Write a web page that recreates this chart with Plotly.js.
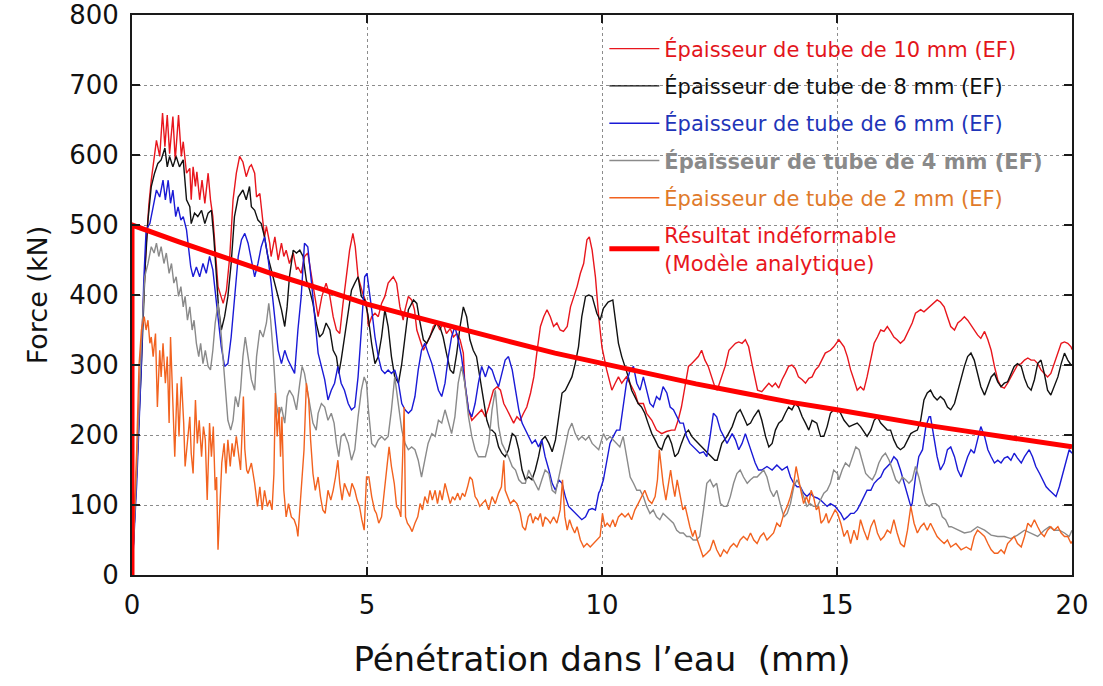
<!DOCTYPE html>
<html>
<head>
<meta charset="utf-8">
<script src="https://cdn.plot.ly/plotly-3.0.1.min.js"></script>
<style>html,body{margin:0;padding:0;background:#fff}#chart{width:1103px;height:686px}</style>
</head>
<body>
<div id="chart"></div>
<script>
// Penetration (mm), Force (kN) pairs
const tube10mm = [[0,0],[0.1,150],[0.2,330],[0.3,470],[0.36,530],[0.41,564],[0.52,621],[0.59,598],[0.65,660],[0.70,612],[0.75,657],[0.80,602],[0.87,655],[0.92,593],[0.99,657],[1.05,598],[1.09,619],[1.16,574],[1.23,581],[1.26,536],[1.30,583],[1.35,555],[1.38,576],[1.44,536],[1.49,564],[1.55,531],[1.62,574],[1.67,536],[1.72,512],[1.77,469],[1.83,412],[1.94,388],[2.01,407],[2.08,455],[2.15,536],[2.22,574],[2.29,598],[2.36,590],[2.43,569],[2.50,583],[2.54,586],[2.61,574],[2.65,540],[2.72,545],[2.77,517],[2.82,483],[2.86,498],[2.93,474],[2.96,455],[3.04,483],[3.11,450],[3.18,474],[3.23,455],[3.28,464],[3.35,445],[3.43,460],[3.50,436],[3.53,440],[3.60,431],[3.67,455],[3.74,460],[3.82,426],[3.89,398],[3.96,369],[4.04,398],[4.13,417],[4.21,398],[4.28,369],[4.35,350],[4.42,345],[4.49,388],[4.56,426],[4.63,464],[4.70,488],[4.75,469],[4.81,426],[4.91,402],[4.99,388],[5.03,355],[5.10,369],[5.17,374],[5.24,369],[5.31,388],[5.38,398],[5.45,417],[5.56,426],[5.63,417],[5.70,383],[5.77,364],[5.81,379],[5.88,398],[5.95,393],[6.01,379],[6.06,350],[6.13,336],[6.20,321],[6.27,331],[6.34,340],[6.41,355],[6.48,360],[6.55,350],[6.62,360],[6.69,345],[6.77,352],[6.84,340],[6.91,345],[6.98,336],[7.05,317],[7.08,274],[7.16,236],[7.23,221],[7.30,226],[7.37,231],[7.44,236],[7.52,226],[7.59,240],[7.69,264],[7.77,269],[7.84,264],[7.91,245],[7.98,236],[8.05,226],[8.12,217],[8.19,226],[8.26,221],[8.33,231],[8.40,240],[8.48,260],[8.55,283],[8.62,321],[8.69,355],[8.76,369],[8.83,379],[8.90,369],[8.97,355],[9.04,360],[9.11,350],[9.18,348],[9.26,355],[9.33,383],[9.40,398],[9.47,412],[9.54,431],[9.61,445],[9.68,479],[9.73,483],[9.79,464],[9.86,426],[9.93,369],[10.0,325],[10.10,293],[10.21,264],[10.28,274],[10.35,283],[10.42,274],[10.52,283],[10.63,269],[10.70,260],[10.77,245],[10.88,245],[10.95,231],[11.06,221],[11.16,207],[11.27,202],[11.37,205],[11.48,207],[11.55,207],[11.62,221],[11.69,240],[11.77,274],[11.84,298],[11.91,302],[11.98,307],[12.05,312],[12.12,321],[12.19,307],[12.26,298],[12.33,283],[12.40,269],[12.45,264],[12.55,283],[12.62,298],[12.70,321],[12.77,326],[12.84,331],[12.91,333],[12.98,331],[13.05,336],[13.12,326],[13.19,302],[13.26,279],[13.31,264],[13.40,262],[13.48,269],[13.55,274],[13.62,269],[13.69,274],[13.76,267],[13.83,279],[13.90,288],[13.97,298],[14.04,300],[14.11,295],[14.18,283],[14.26,279],[14.33,274],[14.40,281],[14.47,283],[14.54,293],[14.61,298],[14.68,307],[14.75,317],[14.86,321],[14.93,326],[15.04,336],[15.15,326],[15.22,312],[15.29,293],[15.36,279],[15.43,264],[15.50,269],[15.57,264],[15.64,283],[15.72,307],[15.79,331],[15.86,340],[15.93,350],[16.00,348],[16.07,355],[16.14,348],[16.21,340],[16.28,336],[16.35,331],[16.43,336],[16.50,345],[16.60,360],[16.67,374],[16.78,379],[16.85,376],[16.96,383],[17.06,388],[17.13,393],[17.20,390],[17.28,383],[17.35,369],[17.42,355],[17.50,350],[17.57,360],[17.64,364],[17.71,369],[17.78,364],[17.85,357],[17.92,350],[17.99,343],[18.06,338],[18.14,348],[18.21,336],[18.28,321],[18.35,298],[18.42,279],[18.49,269],[18.56,267],[18.63,274],[18.70,283],[18.77,293],[18.84,300],[18.92,302],[18.99,307],[19.06,310],[19.13,307],[19.20,307],[19.27,302],[19.34,293],[19.41,288],[19.48,283],[19.55,288],[19.62,302],[19.70,317],[19.77,331],[19.84,333],[19.91,331],[19.98,326],[20,322]];

const tube8mm = [[0,0],[0.1,140],[0.2,300],[0.28,440],[0.34,507],[0.41,555],[0.48,574],[0.55,588],[0.62,593],[0.70,610],[0.75,583],[0.80,598],[0.87,583],[0.94,598],[1.01,583],[1.09,593],[1.16,536],[1.23,526],[1.26,502],[1.33,517],[1.40,512],[1.48,521],[1.55,502],[1.62,517],[1.69,521],[1.74,483],[1.79,431],[1.84,383],[1.90,350],[1.97,369],[2.04,398],[2.11,445],[2.18,512],[2.26,540],[2.36,550],[2.43,536],[2.50,555],[2.54,526],[2.61,521],[2.68,507],[2.75,502],[2.82,483],[2.89,455],[2.96,436],[3.04,417],[3.11,398],[3.18,379],[3.25,355],[3.30,383],[3.35,426],[3.43,464],[3.50,460],[3.57,464],[3.64,455],[3.71,421],[3.78,407],[3.85,388],[3.92,360],[3.99,340],[4.06,345],[4.13,360],[4.21,350],[4.28,321],[4.35,312],[4.40,288],[4.45,307],[4.52,340],[4.60,379],[4.67,407],[4.74,417],[4.81,426],[4.88,398],[4.95,393],[5.02,372],[5.10,330],[5.17,302],[5.24,312],[5.31,340],[5.38,379],[5.45,355],[5.52,312],[5.59,283],[5.67,274],[5.74,302],[5.81,340],[5.88,379],[5.99,393],[6.06,388],[6.13,360],[6.20,336],[6.27,331],[6.34,340],[6.41,350],[6.48,360],[6.55,355],[6.62,340],[6.69,317],[6.77,293],[6.84,288],[6.91,317],[6.98,355],[7.05,383],[7.12,369],[7.19,336],[7.26,321],[7.33,312],[7.40,283],[7.47,255],[7.55,221],[7.62,207],[7.66,207],[7.73,202],[7.80,183],[7.87,174],[7.94,169],[8.01,179],[8.09,202],[8.16,198],[8.23,179],[8.30,150],[8.37,136],[8.44,140],[8.51,136],[8.58,150],[8.65,169],[8.72,193],[8.79,198],[8.87,188],[8.94,176],[9.01,193],[9.08,226],[9.15,260],[9.22,264],[9.29,274],[9.36,283],[9.43,302],[9.50,326],[9.57,369],[9.65,398],[9.72,400],[9.79,398],[9.89,374],[9.96,364],[10.03,381],[10.13,390],[10.23,393],[10.28,369],[10.35,331],[10.42,312],[10.49,298],[10.56,283],[10.63,264],[10.70,255],[10.77,245],[10.84,240],[10.91,231],[10.98,217],[11.06,202],[11.13,193],[11.20,183],[11.27,179],[11.34,193],[11.41,200],[11.48,188],[11.55,169],[11.62,174],[11.69,188],[11.77,202],[11.84,207],[11.91,198],[11.98,193],[12.05,188],[12.12,183],[12.19,179],[12.26,174],[12.33,169],[12.40,164],[12.45,164],[12.55,188],[12.66,198],[12.77,212],[12.87,231],[12.94,236],[13.01,226],[13.09,214],[13.16,217],[13.23,226],[13.33,236],[13.40,221],[13.48,198],[13.55,183],[13.62,188],[13.69,207],[13.76,217],[13.83,221],[13.90,231],[13.97,240],[14.04,236],[14.11,245],[14.18,240],[14.26,226],[14.33,217],[14.40,207],[14.47,221],[14.57,217],[14.65,198],[14.72,198],[14.79,212],[14.86,231],[14.93,236],[15.04,236],[15.15,221],[15.26,212],[15.33,214],[15.43,217],[15.50,212],[15.57,205],[15.64,198],[15.72,207],[15.79,221],[15.86,226],[15.93,217],[16.00,212],[16.07,207],[16.14,207],[16.21,193],[16.28,183],[16.35,179],[16.43,183],[16.50,193],[16.57,202],[16.64,205],[16.71,207],[16.78,221],[16.85,250],[16.92,260],[16.99,264],[17.06,255],[17.13,250],[17.20,255],[17.28,250],[17.35,240],[17.42,236],[17.50,245],[17.57,264],[17.64,283],[17.71,298],[17.78,312],[17.85,317],[17.92,307],[17.99,288],[18.06,269],[18.14,257],[18.21,269],[18.28,283],[18.35,288],[18.42,276],[18.49,269],[18.56,274],[18.63,276],[18.70,288],[18.77,298],[18.84,302],[18.92,298],[18.99,281],[19.06,269],[19.13,264],[19.20,279],[19.27,302],[19.34,307],[19.41,288],[19.48,264],[19.55,257],[19.62,269],[19.70,283],[19.77,302],[19.84,317],[19.91,307],[19.98,300],[20,300]];

const tube6mm = [[0,0],[0.1,130],[0.2,300],[0.25,420],[0.30,493],[0.38,502],[0.45,526],[0.52,550],[0.59,540],[0.66,564],[0.71,536],[0.77,564],[0.82,531],[0.87,550],[0.93,512],[0.98,526],[1.04,507],[1.09,512],[1.16,493],[1.21,464],[1.25,440],[1.30,426],[1.37,440],[1.44,426],[1.51,445],[1.58,431],[1.65,455],[1.72,436],[1.77,407],[1.83,369],[1.90,326],[1.97,298],[2.04,302],[2.11,340],[2.18,398],[2.26,455],[2.33,479],[2.40,488],[2.47,474],[2.54,450],[2.61,426],[2.68,445],[2.75,469],[2.82,483],[2.89,455],[2.96,417],[3.04,369],[3.11,321],[3.18,302],[3.25,321],[3.32,307],[3.39,298],[3.46,288],[3.53,350],[3.60,398],[3.67,474],[3.74,469],[3.82,417],[3.89,369],[3.96,317],[4.03,298],[4.10,279],[4.17,250],[4.24,264],[4.31,274],[4.38,298],[4.45,274],[4.52,264],[4.60,245],[4.67,236],[4.74,240],[4.81,283],[4.88,350],[4.95,426],[5.0,431],[5.03,417],[5.10,379],[5.17,340],[5.24,312],[5.31,293],[5.38,288],[5.45,293],[5.52,288],[5.59,293],[5.67,274],[5.74,245],[5.81,236],[5.88,231],[5.95,236],[6.02,255],[6.09,293],[6.16,321],[6.23,331],[6.30,317],[6.38,302],[6.45,283],[6.52,264],[6.59,255],[6.66,274],[6.73,312],[6.80,340],[6.87,355],[6.94,336],[7.01,312],[7.08,274],[7.16,236],[7.23,226],[7.30,245],[7.37,274],[7.44,298],[7.52,283],[7.59,298],[7.66,293],[7.73,279],[7.80,269],[7.87,288],[7.94,307],[8.01,312],[8.09,293],[8.16,264],[8.23,236],[8.30,217],[8.37,207],[8.44,198],[8.51,188],[8.58,193],[8.65,183],[8.72,193],[8.79,169],[8.87,150],[8.94,131],[9.01,121],[9.08,136],[9.15,131],[9.22,112],[9.29,98],[9.36,93],[9.43,88],[9.50,83],[9.57,79],[9.65,83],[9.72,93],[9.79,95],[9.86,93],[9.93,117],[9.96,121],[10.03,136],[10.10,160],[10.17,188],[10.24,198],[10.31,207],[10.38,207],[10.45,240],[10.52,274],[10.60,293],[10.67,298],[10.74,274],[10.81,264],[10.88,283],[10.95,264],[11.02,245],[11.09,240],[11.16,255],[11.23,250],[11.30,269],[11.38,260],[11.45,240],[11.52,236],[11.59,226],[11.66,217],[11.73,217],[11.80,198],[11.87,188],[11.94,183],[12.01,179],[12.08,174],[12.16,176],[12.23,169],[12.30,198],[12.37,231],[12.44,226],[12.52,207],[12.59,198],[12.66,188],[12.77,202],[12.84,193],[12.91,179],[12.98,188],[13.05,202],[13.12,188],[13.19,174],[13.26,160],[13.33,150],[13.40,150],[13.51,155],[13.62,150],[13.72,157],[13.83,150],[13.94,155],[14.01,140],[14.08,131],[14.15,126],[14.22,126],[14.29,117],[14.36,112],[14.43,117],[14.50,112],[14.58,110],[14.65,107],[14.72,102],[14.79,98],[14.86,102],[14.96,98],[15.08,88],[15.15,79],[15.22,83],[15.29,88],[15.36,88],[15.43,93],[15.50,102],[15.57,112],[15.64,121],[15.72,121],[15.79,131],[15.86,136],[15.93,140],[16.00,150],[16.07,155],[16.14,160],[16.21,169],[16.28,164],[16.35,150],[16.43,131],[16.50,112],[16.57,98],[16.60,102],[16.67,140],[16.74,169],[16.82,179],[16.89,212],[16.96,226],[16.99,226],[17.06,198],[17.13,169],[17.20,150],[17.28,160],[17.35,179],[17.42,183],[17.50,169],[17.57,150],[17.64,140],[17.71,155],[17.78,169],[17.85,179],[17.92,174],[17.99,193],[18.06,212],[18.14,198],[18.21,179],[18.28,169],[18.35,160],[18.42,164],[18.49,160],[18.56,167],[18.63,169],[18.70,164],[18.77,174],[18.84,167],[18.92,160],[18.99,169],[19.09,179],[19.16,169],[19.23,155],[19.31,145],[19.38,136],[19.45,126],[19.52,121],[19.59,117],[19.66,112],[19.73,126],[19.80,145],[19.87,164],[19.94,179],[20,174]];

const tube4mm = [[0,0],[0.1,150],[0.2,330],[0.27,426],[0.34,445],[0.41,469],[0.47,460],[0.52,474],[0.57,455],[0.62,469],[0.68,445],[0.73,460],[0.79,431],[0.84,445],[0.89,417],[0.94,426],[0.99,398],[1.04,412],[1.09,383],[1.13,398],[1.18,364],[1.23,383],[1.28,350],[1.32,364],[1.37,331],[1.42,312],[1.46,331],[1.51,302],[1.56,321],[1.62,298],[1.67,293],[1.72,321],[1.77,360],[1.83,388],[1.89,350],[1.94,312],[1.99,264],[2.04,221],[2.10,207],[2.15,221],[2.20,255],[2.26,240],[2.31,264],[2.36,312],[2.41,340],[2.47,312],[2.54,279],[2.61,264],[2.65,312],[2.72,350],[2.79,340],[2.86,360],[2.91,388],[2.95,364],[3.00,321],[3.07,245],[3.12,226],[3.18,240],[3.25,217],[3.30,255],[3.35,264],[3.43,255],[3.50,236],[3.57,274],[3.62,298],[3.67,288],[3.73,264],[3.78,250],[3.85,217],[3.92,207],[3.96,231],[4.03,245],[4.10,240],[4.17,221],[4.24,231],[4.30,217],[4.35,188],[4.40,169],[4.45,198],[4.52,202],[4.60,188],[4.67,164],[4.74,179],[4.81,226],[4.88,264],[4.94,283],[4.99,274],[5.03,236],[5.10,188],[5.17,183],[5.24,193],[5.31,198],[5.38,193],[5.45,198],[5.52,236],[5.59,283],[5.67,245],[5.74,207],[5.81,188],[5.88,179],[5.95,183],[6.02,179],[6.09,164],[6.16,140],[6.23,164],[6.30,188],[6.38,202],[6.45,198],[6.52,221],[6.59,217],[6.66,236],[6.73,217],[6.80,202],[6.87,226],[6.94,274],[7.01,298],[7.08,274],[7.16,226],[7.23,198],[7.30,179],[7.37,169],[7.44,169],[7.52,169],[7.59,188],[7.66,236],[7.73,264],[7.80,212],[7.87,188],[7.94,179],[8.01,169],[8.09,155],[8.16,150],[8.23,136],[8.30,131],[8.37,131],[8.44,150],[8.51,140],[8.58,131],[8.65,121],[8.72,136],[8.79,150],[8.87,145],[8.94,121],[9.01,117],[9.08,140],[9.15,160],[9.22,188],[9.29,207],[9.36,217],[9.43,202],[9.50,193],[9.57,198],[9.65,193],[9.72,198],[9.79,188],[9.86,183],[9.93,179],[10.03,202],[10.10,193],[10.17,198],[10.24,193],[10.31,188],[10.38,183],[10.45,198],[10.52,169],[10.60,140],[10.67,131],[10.74,121],[10.81,121],[10.88,112],[10.95,98],[11.02,88],[11.09,93],[11.16,83],[11.23,79],[11.30,88],[11.38,83],[11.45,79],[11.52,74],[11.59,64],[11.66,60],[11.73,60],[11.80,55],[11.87,55],[11.94,50],[12.01,50],[12.08,55],[12.16,93],[12.23,131],[12.30,136],[12.37,126],[12.44,131],[12.52,102],[12.59,98],[12.66,98],[12.73,112],[12.80,131],[12.87,145],[12.94,150],[13.01,140],[13.09,131],[13.16,136],[13.23,140],[13.30,140],[13.37,145],[13.44,150],[13.51,140],[13.58,121],[13.65,112],[13.72,121],[13.79,102],[13.87,83],[13.94,88],[14.01,102],[14.08,126],[14.15,136],[14.22,126],[14.29,112],[14.36,98],[14.43,102],[14.50,98],[14.58,98],[14.65,107],[14.72,117],[14.79,121],[14.86,131],[14.93,150],[15.01,145],[15.04,136],[15.11,150],[15.18,160],[15.26,155],[15.33,169],[15.40,183],[15.47,179],[15.54,160],[15.61,145],[15.68,140],[15.75,136],[15.82,145],[15.89,160],[15.96,169],[16.03,174],[16.11,164],[16.18,150],[16.25,136],[16.32,131],[16.39,140],[16.46,136],[16.53,131],[16.60,136],[16.67,155],[16.74,140],[16.82,117],[16.89,102],[16.96,98],[17.03,102],[17.10,102],[17.17,98],[17.24,83],[17.31,79],[17.38,69],[17.43,69],[17.57,64],[17.71,60],[17.85,62],[17.99,69],[18.14,64],[18.28,57],[18.42,55],[18.56,55],[18.70,52],[18.84,57],[18.99,64],[19.13,60],[19.27,55],[19.41,64],[19.52,69],[19.62,64],[19.73,64],[19.84,60],[19.94,55],[20,64]];

const tube2mm = [[0,0],[0.1,180],[0.15,300],[0.20,350],[0.26,369],[0.30,350],[0.34,364],[0.38,331],[0.41,340],[0.45,312],[0.50,345],[0.54,240],[0.59,321],[0.62,283],[0.66,331],[0.71,274],[0.75,312],[0.79,217],[0.82,340],[0.87,245],[0.91,169],[0.96,274],[1.00,198],[1.05,283],[1.10,217],[1.13,155],[1.18,193],[1.23,226],[1.26,174],[1.30,145],[1.35,250],[1.39,188],[1.43,221],[1.48,169],[1.52,212],[1.56,193],[1.60,107],[1.65,217],[1.69,169],[1.73,212],[1.77,121],[1.80,140],[1.83,36],[1.87,98],[1.91,160],[1.96,188],[2.00,145],[2.04,193],[2.09,155],[2.13,188],[2.17,169],[2.22,198],[2.27,169],[2.31,150],[2.34,200],[2.37,255],[2.40,180],[2.44,150],[2.47,145],[2.54,160],[2.61,131],[2.67,98],[2.72,126],[2.77,93],[2.82,121],[2.88,98],[2.93,107],[2.98,93],[3.02,145],[3.05,260],[3.09,198],[3.13,240],[3.16,169],[3.19,226],[3.23,121],[3.28,83],[3.33,102],[3.39,83],[3.45,79],[3.50,69],[3.53,55],[3.57,93],[3.62,136],[3.66,179],[3.71,274],[3.76,250],[3.80,193],[3.85,145],[3.90,121],[3.96,140],[4.01,112],[4.06,93],[4.11,88],[4.17,121],[4.23,107],[4.28,121],[4.33,140],[4.38,164],[4.42,131],[4.47,107],[4.52,131],[4.58,121],[4.63,112],[4.68,131],[4.74,121],[4.79,107],[4.84,98],[4.89,79],[4.94,64],[4.99,140],[5.04,140],[5.10,112],[5.16,93],[5.20,88],[5.25,74],[5.31,83],[5.37,121],[5.42,155],[5.47,183],[5.52,155],[5.58,131],[5.63,98],[5.68,93],[5.72,83],[5.77,179],[5.79,240],[5.82,83],[5.86,74],[5.91,69],[5.96,62],[6.02,74],[6.08,83],[6.13,102],[6.18,93],[6.23,112],[6.29,102],[6.34,121],[6.39,107],[6.45,121],[6.50,102],[6.55,121],[6.60,107],[6.66,131],[6.72,117],[6.77,102],[6.82,112],[6.87,107],[6.93,117],[6.98,107],[7.03,117],[7.08,112],[7.14,126],[7.19,140],[7.24,136],[7.30,112],[7.35,107],[7.40,98],[7.45,102],[7.52,107],[7.59,93],[7.66,112],[7.73,102],[7.80,117],[7.86,126],[7.91,164],[7.94,121],[8.00,112],[8.05,102],[8.12,107],[8.19,102],[8.26,88],[8.31,69],[8.37,64],[8.43,83],[8.48,88],[8.53,74],[8.58,83],[8.64,79],[8.69,88],[8.74,69],[8.79,83],[8.85,79],[8.90,74],[8.97,83],[9.04,74],[9.11,93],[9.16,136],[9.21,83],[9.26,64],[9.31,79],[9.36,69],[9.42,60],[9.47,69],[9.54,50],[9.61,40],[9.68,45],[9.75,40],[9.82,45],[9.89,50],[9.96,55],[10.01,88],[10.06,69],[10.11,74],[10.17,69],[10.23,79],[10.28,69],[10.35,83],[10.42,88],[10.49,83],[10.56,88],[10.63,79],[10.70,93],[10.77,102],[10.84,112],[10.91,121],[10.99,107],[11.06,102],[11.13,112],[11.18,136],[11.22,179],[11.25,160],[11.30,131],[11.36,107],[11.41,131],[11.46,150],[11.50,131],[11.55,112],[11.60,136],[11.66,112],[11.72,93],[11.77,98],[11.82,83],[11.87,69],[11.93,55],[11.98,64],[12.03,50],[12.08,40],[12.15,26],[12.23,31],[12.30,36],[12.37,50],[12.44,36],[12.52,26],[12.59,36],[12.66,31],[12.73,40],[12.80,45],[12.87,40],[12.94,50],[13.01,55],[13.09,50],[13.16,60],[13.23,50],[13.30,45],[13.37,55],[13.44,60],[13.51,50],[13.58,55],[13.65,60],[13.72,74],[13.79,69],[13.87,88],[13.94,98],[14.01,112],[14.08,131],[14.13,155],[14.18,140],[14.23,121],[14.29,102],[14.35,112],[14.40,102],[14.45,121],[14.50,112],[14.56,93],[14.61,98],[14.66,74],[14.72,79],[14.77,88],[14.82,74],[14.89,83],[14.96,93],[15.01,88],[15.08,74],[15.15,55],[15.22,64],[15.29,45],[15.36,64],[15.43,50],[15.50,79],[15.57,64],[15.65,50],[15.72,69],[15.79,79],[15.86,60],[15.93,50],[16.00,55],[16.07,64],[16.14,60],[16.21,79],[16.28,60],[16.35,45],[16.43,40],[16.50,64],[16.57,98],[16.64,74],[16.71,60],[16.78,69],[16.85,74],[16.92,64],[16.99,74],[17.06,64],[17.13,55],[17.20,50],[17.28,45],[17.35,50],[17.42,40],[17.53,45],[17.64,36],[17.75,40],[17.85,36],[17.92,55],[17.99,64],[18.06,60],[18.14,55],[18.21,45],[18.28,36],[18.35,31],[18.42,31],[18.49,36],[18.56,31],[18.63,45],[18.70,50],[18.77,55],[18.84,45],[18.92,40],[18.99,55],[19.06,74],[19.13,69],[19.20,79],[19.27,69],[19.34,60],[19.41,55],[19.48,64],[19.55,69],[19.62,64],[19.70,69],[19.77,60],[19.84,55],[19.91,55],[19.98,45],[20,48]];

const analytic = [[0,0],[0,500],[1,476],[2,453],[3,430],[4,409],[5,387],[6,369],[7,351],[8,334],[9,317],[10,302],[11,287],[12,273],[13,260],[14,247],[15,236],[16,224],[17,213],[18,203],[19,193],[20,183]];

const seriesNames = [
  'Épaisseur de tube de 10 mm (EF)',
  'Épaisseur de tube de 8 mm (EF)',
  'Épaisseur de tube de 6 mm (EF)',
  'Épaisseur de tube de 4 mm (EF)',
  'Épaisseur de tube de 2 mm (EF)',
  'Résultat indéformable<br>(Modèle analytique)'
];
const xTickVals = [0, 5, 10, 15, 20];
const yTickVals = [0, 100, 200, 300, 400, 500, 600, 700, 800];

const FONT = '"DejaVu Sans", "Liberation Sans", sans-serif';
const lineColors = ['#e8161d', '#111111', '#1a1ad6', '#8a8a8a', '#f2621f', '#ff0000'];
const textColors = ['#e3151b', '#111111', '#1f35b8', '#8a8a8a', '#e07a2a', '#e8161d'];
const widths = [1.4, 1.4, 1.4, 1.4, 1.4, 5];
const datasets = [tube10mm, tube8mm, tube6mm, tube4mm, tube2mm, analytic];

const traces = datasets.map((d, i) => {
  let label = seriesNames[i];
  if (i === 3) label = '<b>' + label + '</b>';
  return {
    type: 'scatter', mode: 'lines',
    x: d.map(p => p[0]), y: d.map(p => p[1]),
    name: '<span style="color:' + textColors[i] + '">' + label + '</span>',
    legendgroup: 'g' + i,
    line: {color: lineColors[i], width: widths[i]},
    hoverinfo: 'skip'
  };
});

const axisCommon = {
  showline: true, linecolor: '#1a1a1a', linewidth: 2, mirror: 'ticks',
  ticks: 'inside', ticklen: 8, tickwidth: 2, tickcolor: '#1a1a1a',
  showgrid: true, gridcolor: '#8c8c8c', gridwidth: 1, griddash: 'dot',
  zeroline: false, automargin: false,
  tickfont: {family: FONT, size: 26, color: '#111'}
};

const layout = {
  width: 1103, height: 686,
  margin: {l: 132, r: 31, t: 15, b: 111},
  paper_bgcolor: '#ffffff', plot_bgcolor: '#ffffff',
  showlegend: true,
  font: {family: FONT, color: '#111'},
  xaxis: Object.assign({}, axisCommon, {
    range: [0, 20], tickmode: 'array', tickvals: xTickVals,
    ticktext: xTickVals.map(String), ticklabelstandoff: 6,
    title: {text: 'Pénétration dans l\u2019eau\u00a0 (mm)', font: {family: FONT, size: 34, color: '#111'}, standoff: 28}
  }),
  yaxis: Object.assign({}, axisCommon, {
    range: [0, 800], tickmode: 'array', tickvals: yTickVals,
    ticktext: yTickVals.map(String), ticklabelstandoff: 6,
    title: {text: 'Force (kN)', font: {family: FONT, size: 27, color: '#111'}, standoff: 14}
  }),
  legend: {
    x: 0.5025, y: 0.976, xanchor: 'left', yanchor: 'top',
    bgcolor: 'rgba(0,0,0,0)', borderwidth: 0,
    font: {family: FONT, size: 21},
    tracegroupgap: 7, itemwidth: 50, valign: 'middle',
    traceorder: 'grouped'
  }
};

Plotly.newPlot('chart', traces, layout, {displayModeBar: false, staticPlot: true});
</script>
</body>
</html>
